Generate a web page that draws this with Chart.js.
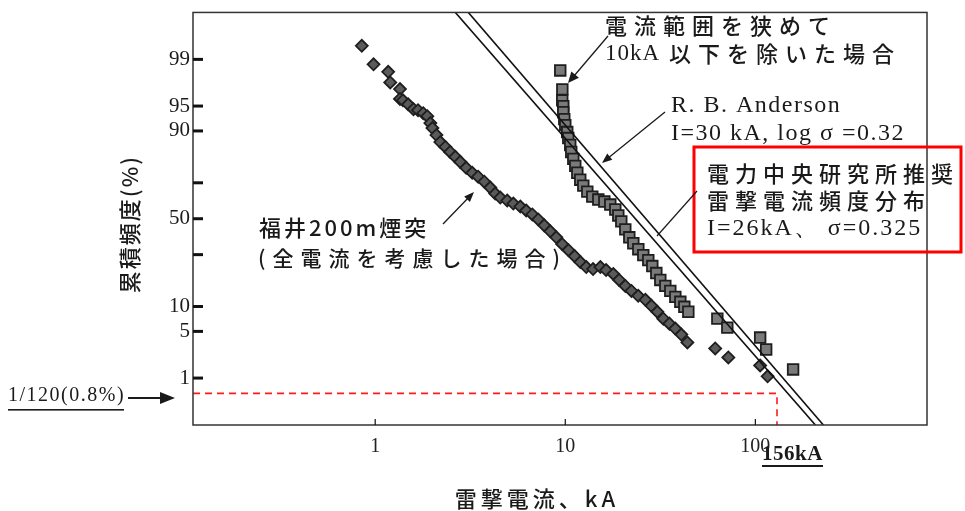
<!DOCTYPE html>
<html>
<head>
<meta charset="utf-8">
<script src="https://cdn.jsdelivr.net/npm/chart.js@4/dist/chart.umd.min.js"></script>
<style>
  body { margin: 0; background: #fff; }
</style>
</head>
<body>
<canvas id="LightningChart" width="965" height="511"></canvas>
<script>
// 福井200m煙突 (全電流を考慮した場合) - kA / %
const fukuiCurrent = [0.85, 0.98, 1.17, 1.20, 1.35, 1.35, 1.40, 1.49, 1.59, 1.68, 1.79, 1.88, 1.95, 2.00, 2.10, 2.20,
    2.34, 2.48, 2.64, 2.80, 3.01, 3.24, 3.48, 3.75, 4.03, 4.28, 4.55, 4.95, 5.33, 5.80, 6.23, 6.71, 7.21, 7.75,
    8.34, 8.97, 9.64, 10.4, 11.2, 12.0, 12.9, 14.0, 15.3, 16.4, 17.9, 19.2, 20.7, 22.3, 24.2, 26.4, 28.4, 30.5,
    32.8, 35.3, 37.9, 40.8, 43.9, 61.5, 72.1, 106, 116];
const fukuiFreq = [99.42, 98.79, 98.40, 97.67, 97.08, 95.98, 95.81, 95.26, 94.51, 94.34, 93.83, 93.28, 91.86, 90.71,
    88.91, 86.86, 85.27, 83.52, 81.67, 79.68, 77.13, 74.89, 73.01, 70.57, 67.51, 64.32, 62.13, 60.45, 58.78, 57.06,
    54.78, 52.48, 49.60, 46.14, 42.70, 39.32, 35.49, 32.31, 29.25, 26.34, 24.01, 23.12, 24.01, 22.69, 20.98, 18.57,
    16.33, 14.60, 13.01, 11.82, 10.19, 8.72, 7.23, 6.28, 5.44, 4.54, 3.54, 2.91, 2.14, 1.61, 1.07];

// 電流範囲を狭めて10kA以下を除いた場合
const rangeCurrent = [9.41, 9.65, 9.64, 9.76, 9.76, 9.88, 10.0, 10.24, 10.37, 10.62, 10.75, 11.02, 11.29, 11.57, 11.99,
    12.44, 13.06, 13.87, 14.92, 16.05, 17.25, 18.33, 19.01, 19.71, 20.69, 21.72, 22.80, 24.23, 25.73, 27.34, 28.70,
    30.13, 31.62, 33.60, 35.69, 37.93, 40.30, 42.31, 44.40, 63.1, 71.2, 106, 114, 158];
const rangeFreq = [98.48, 97.05, 95.81, 94.97, 94.00, 92.70, 91.42, 89.71, 88.06, 85.93, 83.52, 80.89, 78.00, 74.89,
    71.56, 68.55, 65.39, 62.67, 61.03, 59.91, 58.20, 55.37, 51.91, 48.44, 43.84, 39.32, 36.02, 32.82, 29.74, 27.29,
    24.48, 21.39, 18.57, 16.33, 14.60, 12.70, 11.26, 9.92, 8.72, 7.23, 5.59, 4.14, 2.81, 1.39];

// R. B. Anderson  I=30kA, log σ=0.32
const andersonCurrent = [3.09, 228];
const andersonFreq = [99.87, 0.13];

// 電力中央研究所推奨  I=26kA, σ=0.325
const criepiCurrent = [2.64, 207];
const criepiFreq = [99.87, 0.13];

// 1/120 (0.8%) - 156kA
const limitCurrent = [0.11, 130, 130];
const limitFreq = [0.54, 0.54, 0.13];

const xTicks = [1, 10, 100];
const yTickPct = [99, 95, 90, 70, 50, 30, 10, 5, 1];
const yTickLabels = ['99', '95', '90', '', '50', '', '10', '5', '1'];
const xMin = 0.11, xMax = 800;
const yMinPct = 0.13, yMaxPct = 99.87;

// inverse normal cdf (Acklam) -> probability paper
function probit(p) {
    const a = [-3.969683028665376e+01, 2.209460984245205e+02, -2.759285104469687e+02, 1.383577518672690e+02, -3.066479806614716e+01, 2.506628277459239e+00];
    const b = [-5.447609879822406e+01, 1.615858368580409e+02, -1.556989798598866e+02, 6.680131188771972e+01, -1.328068155288572e+01];
    const c = [-7.784894002430293e-03, -3.223964580411365e-01, -2.400758277161838e+00, -2.549732539343734e+00, 4.374664141464968e+00, 2.938163982698783e+00];
    const d = [7.784695709041462e-03, 3.224671290700398e-01, 2.445134137142996e+00, 3.754408661907416e+00];
    const pl = 0.02425;
    if (p < pl) {
        const q = Math.sqrt(-2 * Math.log(p));
        return (((((c[0] * q + c[1]) * q + c[2]) * q + c[3]) * q + c[4]) * q + c[5]) / ((((d[0] * q + d[1]) * q + d[2]) * q + d[3]) * q + 1);
    }
    if (p > 1 - pl) {
        const q = Math.sqrt(-2 * Math.log(1 - p));
        return -(((((c[0] * q + c[1]) * q + c[2]) * q + c[3]) * q + c[4]) * q + c[5]) / ((((d[0] * q + d[1]) * q + d[2]) * q + d[3]) * q + 1);
    }
    const q = p - 0.5, r = q * q;
    return (((((a[0] * r + a[1]) * r + a[2]) * r + a[3]) * r + a[4]) * r + a[5]) * q / (((((b[0] * r + b[1]) * r + b[2]) * r + b[3]) * r + b[4]) * r + 1);
}

function toPoints(xs, ps) {
    return xs.map((x, i) => ({ x: x, y: probit(ps[i] / 100) }));
}

function drawText(ctx, str, x, y, font, spacing, align) {
    ctx.save();
    ctx.font = font;
    ctx.letterSpacing = (spacing || 0) + 'px';
    ctx.textAlign = align || 'left';
    ctx.textBaseline = 'middle';
    ctx.fillStyle = '#1a1a1a';
    ctx.fillText(str, x, y);
    ctx.restore();
}

function drawArrow(ctx, x1, y1, x2, y2, len, wid, lw) {
    const ang = Math.atan2(y2 - y1, x2 - x1);
    ctx.save();
    ctx.strokeStyle = '#1a1a1a';
    ctx.fillStyle = '#1a1a1a';
    ctx.lineWidth = lw;
    ctx.beginPath();
    ctx.moveTo(x1, y1);
    ctx.lineTo(x2 - Math.cos(ang) * len * 0.6, y2 - Math.sin(ang) * len * 0.6);
    ctx.stroke();
    if (len > 0) {
        ctx.beginPath();
        ctx.moveTo(x2, y2);
        ctx.lineTo(x2 - Math.cos(ang) * len + Math.sin(ang) * wid, y2 - Math.sin(ang) * len - Math.cos(ang) * wid);
        ctx.lineTo(x2 - Math.cos(ang) * len - Math.sin(ang) * wid, y2 - Math.sin(ang) * len + Math.cos(ang) * wid);
        ctx.closePath();
        ctx.fill();
    }
    ctx.restore();
}

const jp = '"Noto Sans CJK JP", sans-serif';
const serif = '"Liberation Serif", "DejaVu Serif", serif';

const notesPlugin = {
    id: 'notes',
    afterDraw(chart) {
        const ctx = chart.ctx;
        const a = chart.chartArea;
        const xs = chart.scales.x, ys = chart.scales.y;

        // frame
        ctx.save();
        ctx.strokeStyle = '#333';
        ctx.lineWidth = 1.5;
        ctx.strokeRect(a.left, a.top, a.right - a.left, a.bottom - a.top);
        // inward tick marks
        ctx.lineWidth = 3;
        ctx.strokeStyle = '#111';
        ys.ticks.forEach(t => {
            const y = ys.getPixelForValue(t.value);
            ctx.beginPath();
            ctx.moveTo(a.left, y);
            ctx.lineTo(a.left + 10, y);
            ctx.stroke();
        });
        ctx.lineWidth = 1.2;
        xs.ticks.forEach(t => {
            const x = xs.getPixelForValue(t.value);
            ctx.beginPath();
            ctx.moveTo(x, a.bottom);
            ctx.lineTo(x, a.bottom - 6);
            ctx.stroke();
        });
        ctx.restore();

        // axis titles
        drawText(ctx, '雷撃電流、kA', 537, 499, '500 22px ' + jp, 4, 'center');
        ctx.save();
        ctx.translate(130, 224);
        ctx.rotate(-Math.PI / 2);
        drawText(ctx, '累積頻度(%)', 0, 0, '500 22px ' + jp, 2, 'center');
        ctx.restore();

        // 10kA以下を除いた場合
        drawText(ctx, '電流範囲を狭めて', 605, 26, '500 22px ' + jp, 7);
        drawText(ctx, '10kA', 605, 54, '500 23px ' + serif, 1);
        drawText(ctx, '以下を除いた場合', 669, 54, '500 22px ' + jp, 7);
        drawArrow(ctx, 608, 36, 568, 83, 11, 5, 1.3);

        // R. B. Anderson
        drawText(ctx, 'R. B. Anderson', 671, 106, '24px ' + serif, 1.5);
        drawText(ctx, 'I=30 kA, log σ =0.32', 671, 134, '24px ' + serif, 1.5);
        drawArrow(ctx, 665, 112, 602, 163, 10, 4, 1.3);

        // 電力中央研究所推奨 (red box)
        ctx.save();
        ctx.strokeStyle = '#ff0000';
        ctx.lineWidth = 3;
        ctx.strokeRect(694, 147, 267, 105);
        ctx.restore();
        drawText(ctx, '電力中央研究所推奨', 707, 174, '500 22px ' + jp, 6);
        drawText(ctx, '雷撃電流頻度分布', 707, 201, '500 22px ' + jp, 6);
        drawText(ctx, 'I=26kA、 σ=0.325', 707, 229, '24px ' + serif, 2);
        drawArrow(ctx, 697, 191, 657, 236, 0, 0, 1.2);

        // 福井200m煙突
        drawText(ctx, '福井200m煙突', 259, 228, '500 22px ' + jp, 3);
        drawText(ctx, '(全電流を考慮した場合)', 258, 258, '500 21px ' + jp, 7);
        drawArrow(ctx, 443, 224, 474, 192, 10, 4, 1.3);

        // 1/120 (0.8%) and 156kA
        drawText(ctx, '1/120(0.8%)', 8, 396, '20px ' + serif, 1.5);
        ctx.save();
        ctx.fillStyle = '#1a1a1a';
        ctx.fillRect(8, 409, 116, 1.6);
        ctx.fillRect(762, 465, 61, 2);
        ctx.restore();
        drawArrow(ctx, 128, 398, 175, 398, 15, 6, 2.2);
        drawText(ctx, '156kA', 762, 455, 'bold 21px ' + serif, 0.5);
    }
};

const config = {
    type: 'scatter',
    data: {
        datasets: [{
            label: '1/120',
            data: toPoints(limitCurrent, limitFreq),
            showLine: true,
            borderColor: '#ff1a1a',
            borderWidth: 1.6,
            borderDash: [7, 5],
            pointRadius: 0
        }, {
            label: 'R. B. Anderson',
            data: toPoints(andersonCurrent, andersonFreq),
            showLine: true,
            borderColor: '#111',
            borderWidth: 1.6,
            pointRadius: 0
        }, {
            label: '電力中央研究所推奨',
            data: toPoints(criepiCurrent, criepiFreq),
            showLine: true,
            borderColor: '#111',
            borderWidth: 1.6,
            pointRadius: 0
        }, {
            label: '福井200m煙突',
            data: toPoints(fukuiCurrent, fukuiFreq),
            pointStyle: 'rectRot',
            pointRadius: 6,
            backgroundColor: '#5a5a5a',
            borderColor: '#1e1e1e',
            borderWidth: 1.8
        }, {
            label: '10kA以下を除いた場合',
            data: toPoints(rangeCurrent, rangeFreq),
            pointStyle: 'rect',
            pointRadius: 7.5,
            backgroundColor: '#7a7a7a',
            borderColor: '#1e1e1e',
            borderWidth: 1.8
        }]
    },
    options: {
        responsive: false,
        devicePixelRatio: 1,
        animation: false,
        layout: {
            padding: { left: 0, top: 10, right: 38, bottom: 0 }
        },
        plugins: {
            legend: { display: false },
            tooltip: { enabled: false }
        },
        scales: {
            x: {
                type: 'logarithmic',
                min: xMin,
                max: xMax,
                bounds: 'data',
                afterBuildTicks: s => { s.ticks = xTicks.map(v => ({ value: v })); },
                afterFit: s => { s.height = 86; },
                grid: { display: false, drawTicks: false },
                border: { display: false },
                ticks: {
                    padding: 12,
                    color: '#222',
                    font: { family: serif, size: 20, lineHeight: 1 },
                    callback: v => String(v)
                }
            },
            y: {
                type: 'linear',
                min: probit(yMinPct / 100),
                max: probit(yMaxPct / 100),
                bounds: 'data',
                afterBuildTicks: s => { s.ticks = yTickPct.map(p => ({ value: probit(p / 100) })); },
                afterFit: s => { s.width = 193; },
                grid: { display: false, drawTicks: false },
                border: { display: false },
                ticks: {
                    padding: 3,
                    color: '#1a1a1a',
                    font: { family: serif, size: 21, lineHeight: 0.9 },
                    callback: (v, i) => yTickLabels[i]
                }
            }
        }
    },
    plugins: [notesPlugin]
};

new Chart(document.getElementById('LightningChart'), config);
</script>
</body>
</html>
